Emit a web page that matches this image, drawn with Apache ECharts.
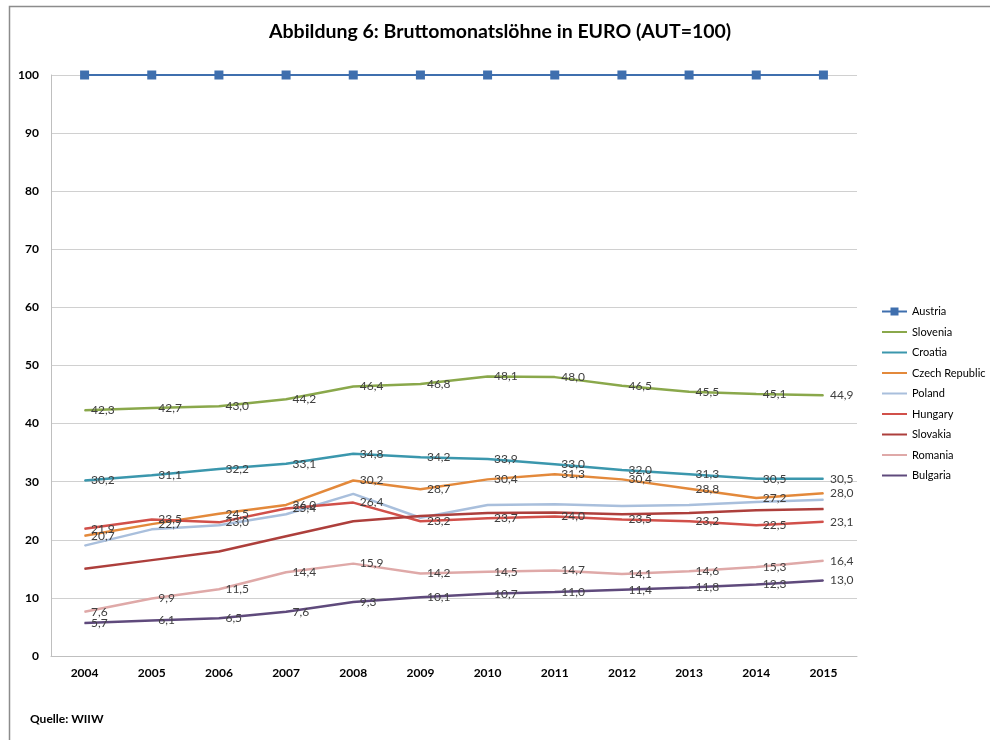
<!DOCTYPE html>
<html>
<head>
<meta charset="utf-8">
<script src="https://cdn.jsdelivr.net/npm/echarts@6/dist/echarts.min.js"></script>
<style>html,body{margin:0;padding:0;background:#fff}#c{width:990px;height:740px}</style>
</head>
<body>
<div id="c"></div>
<script>
const years = ['2004','2005','2006','2007','2008','2009','2010','2011','2012','2013','2014','2015'];
const austria  = [100,100,100,100,100,100,100,100,100,100,100,100];
const slovenia = [42.3,42.7,43.0,44.2,46.4,46.8,48.1,48.0,46.5,45.5,45.1,44.9];
const croatia  = [30.2,31.1,32.2,33.1,34.8,34.2,33.9,33.0,32.0,31.3,30.5,30.5];
const czech    = [20.7,22.7,24.5,26.0,30.2,28.7,30.4,31.3,30.4,28.8,27.2,28.0];
const poland   = [19.0,21.8,22.5,24.4,27.9,23.8,26.0,26.1,25.8,26.0,26.5,26.9];
const hungary  = [21.9,23.5,23.0,25.4,26.4,23.2,23.7,24.0,23.5,23.2,22.5,23.1];
const slovakia = [15.0,16.5,18.0,20.6,23.2,24.1,24.6,24.7,24.4,24.6,25.1,25.3];
const romania  = [7.6,9.9,11.5,14.4,15.9,14.2,14.5,14.7,14.1,14.6,15.3,16.4];
const bulgaria = [5.7,6.1,6.5,7.6,9.3,10.1,10.7,11.0,11.4,11.8,12.3,13.0];
const legendNames = ['Austria','Slovenia','Croatia','Czech Republic','Poland','Hungary','Slovakia','Romania','Bulgaria'];

const FONT = 'Lato, "Open Sans", sans-serif';
function mk(name, data, color, showLabel, isAustria) {
  return {
    name, type: 'line', data,
    symbol: isAustria ? 'rect' : 'circle',
    symbolSize: isAustria ? 9 : 1,
    showSymbol: true,
    lineStyle: { color, width: isAustria ? 2 : 2.5 },
    itemStyle: { color },
    label: {
      show: showLabel, position: 'right', distance: 6,
      color: '#404040', fontSize: 12, fontFamily: FONT,
      formatter: p => p.value.toFixed(1).replace('.', ',')
    },
    emphasis: { disabled: true },
    animation: false,
    z: isAustria ? 3 : 2
  };
}

const chart = echarts.init(document.getElementById('c'), null, { renderer: 'canvas' });
chart.setOption({
  backgroundColor: '#fff',
  animation: false,
  title: {
    text: 'Abbildung 6: Bruttomonatslöhne in EURO (AUT=100)',
    left: 264, top: 17,
    textStyle: { fontFamily: FONT, fontWeight: 'bold', fontSize: 19.5, color: '#000' }
  },
  grid: { left: 51, right: 133, top: 75, bottom: 84 },
  legend: {
    orient: 'vertical', left: 876, top: 301,
    itemWidth: 25, itemHeight: 10, itemGap: 9.5,
    textStyle: { fontFamily: FONT, fontSize: 11, color: '#000', lineHeight: 10 },
    data: legendNames.map((n, i) => i === 0 ? { name: n } : { name: n, itemStyle: { opacity: 0 } })
  },
  xAxis: {
    type: 'category', data: years, boundaryGap: true,
    axisLine: { lineStyle: { color: '#bfbfbf', width: 1 } },
    axisTick: { show: false },
    axisLabel: { fontFamily: FONT, fontWeight: 'bold', fontSize: 12, color: '#000', margin: 11 }
  },
  yAxis: {
    type: 'value', min: 0, max: 100, interval: 10,
    axisLine: { show: true, lineStyle: { color: '#bfbfbf', width: 1 } },
    axisTick: { show: false },
    splitLine: { lineStyle: { color: '#d0d0d0', width: 1 } },
    axisLabel: { fontFamily: FONT, fontWeight: 'bold', fontSize: 12, color: '#000', margin: 12 }
  },
  graphic: [
    { type: 'rect', shape: { x: 9.5, y: 6.5, width: 1000, height: 760 },
      style: { fill: 'none', stroke: '#8c8c8c', lineWidth: 1.5 }, silent: true, z: 0 },
    { type: 'text', left: 30, top: 713,
      style: { text: 'Quelle: WIIW', fontFamily: FONT, fontWeight: 'bold', fontSize: 12, fill: '#000' } }
  ],
  series: [
    mk('Austria', austria, '#3f6fae', false, true),
    mk('Slovenia', slovenia, '#8aa84b', true),
    mk('Croatia', croatia, '#3b97ad', true),
    mk('Czech Republic', czech, '#e3893b', true),
    mk('Poland', poland, '#a9bfdc', false),
    mk('Hungary', hungary, '#d1504a', true),
    mk('Slovakia', slovakia, '#ad3f3c', false),
    mk('Romania', romania, '#dfa9a8', true),
    mk('Bulgaria', bulgaria, '#5f4a7c', true)
  ]
});
</script>
</body>
</html>
